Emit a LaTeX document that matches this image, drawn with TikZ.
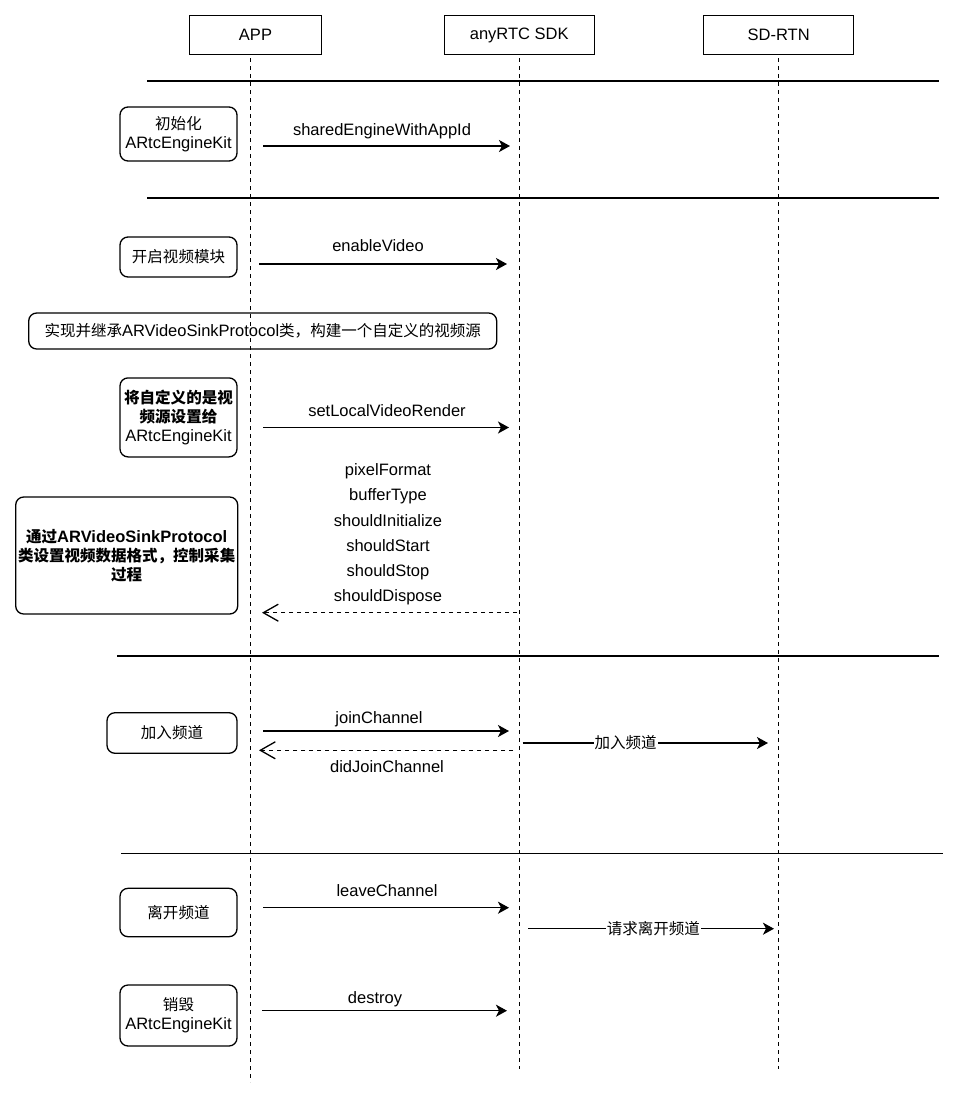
\documentclass[tikz,border=0pt]{standalone}
\usepackage{fontspec}
\setmainfont{Liberation Sans}
\newfontfamily\cjk{Noto Sans CJK SC}[Scale=0.94]
\newcommand{\zh}[1]{{\cjk #1}}
\usetikzlibrary{arrows.meta}

\begin{document}
\begin{tikzpicture}[x=1pt, y=-1pt, line width=1.3pt,
	font=\fontsize{16.5}{19}\selectfont,
	actor/.style={draw, minimum height=39pt, inner sep=0pt},
	note/.style={draw, rounded corners=8pt, align=center, inner sep=0pt},
	life/.style={line width=1pt, dash pattern=on 4pt off 4pt},
	sep/.style={line width=1.2pt},
	call/.style={-{Stealth[length=11pt,width=12pt,inset=3pt]}},
	reply/.style={dash pattern=on 4pt off 4pt, -{Straight Barb[length=15pt,width=17pt]}}]
	\useasboundingbox (0,0) rectangle (957,1096);
	% participants
	\node (APP) at (255.5, 35.3)	[actor, minimum width=132pt]	{APP};
	\node (SDK) at (519.2, 35.3)	[actor, minimum width=150pt]	{anyRTC SDK};
	\node (RTN) at (778.7, 35.3)	[actor, minimum width=150pt]	{SD-RTN};
	\coordinate (APPt) at (250, 58);	\coordinate (APPb) at (250, 1082);
	\coordinate (SDKt) at (519, 58);	\coordinate (SDKb) at (519, 1069);
	\coordinate (RTNt) at (778, 58);	\coordinate (RTNb) at (778, 1069);
	\draw[life] (APPt) -- (APPb);
	\draw[life] (SDKt) -- (SDKb);
	\draw[life] (RTNt) -- (RTNb);
	% separators
	\draw[sep] (147, 81) -- (939, 81);
	\draw[sep] (147, 198) -- (939, 198);
	\draw[sep] (117, 656) -- (939, 656);
	\draw[sep] (121, 853.5) -- (943, 853.5);
	% notes
	\node (N1) at (178.5, 134)	[note, minimum width=117pt, minimum height=54pt]	{\zh{初始化}\\ARtcEngineKit};
	\node (N2) at (178.5, 257)	[note, minimum width=117pt, minimum height=40pt]	{\zh{开启视频模块}};
	\node (N3) at (262.7, 331)	[note, minimum width=468pt, minimum height=36pt]	{\zh{实现并继承}ARVideoSinkProtocol\zh{类，构建一个自定义的视频源}};
	\node (N4) at (178.5, 417.4)	[note, minimum width=117pt, minimum height=79pt]	{{\bfseries\zh{将自定义的是视}}\\{\bfseries\zh{频源设置给}}\\ARtcEngineKit};
	\node (N5) at (126.7, 555.5)	[note, minimum width=222pt, minimum height=117pt, font=\fontsize{16.5}{19}\selectfont\bfseries]	{\zh{通过}ARVideoSinkProtocol\\\zh{类设置视频数据格式，控制采集}\\\zh{过程}};
	\node (N6) at (172, 733)	[note, minimum width=130pt, minimum height=40.6pt]	{\zh{加入频道}};
	\node (N7) at (178.5, 912.5)	[note, minimum width=117pt, minimum height=48.4pt]	{\zh{离开频道}};
	\node (N8) at (178.5, 1015.5)	[note, minimum width=117pt, minimum height=61pt]	{\zh{销毁}\\ARtcEngineKit};
	% message ends
	\coordinate (m1a) at (263, 146);	\coordinate (m1b) at (510, 146);
	\coordinate (m2a) at (259, 264);	\coordinate (m2b) at (507, 264);
	\coordinate (m3a) at (263, 427.5);	\coordinate (m3b) at (509, 427.5);
	\coordinate (r1a) at (517, 612.7);	\coordinate (r1b) at (262, 612.7);
	\coordinate (m4a) at (263, 731);	\coordinate (m4b) at (509, 731);
	\coordinate (r2a) at (513, 750.3);	\coordinate (r2b) at (259, 750.3);
	\coordinate (m5a) at (522.5, 743);	\coordinate (m5b) at (768, 743);
	\coordinate (m6a) at (263, 907.7);	\coordinate (m6b) at (509, 907.7);
	\coordinate (m7a) at (528, 928.7);	\coordinate (m7b) at (774, 928.7);
	\coordinate (m8a) at (262, 1010.7);	\coordinate (m8b) at (507, 1010.7);
	% messages
	\draw[call] (m1a) -- (m1b);
	\draw[call] (m2a) -- (m2b);
	\draw[call] (m3a) -- (m3b);
	\draw[reply] (r1a) -- (r1b);
	\draw[call] (m4a) -- (m4b);
	\draw[reply] (r2a) -- (r2b);
	\draw[call] (m5a) -- node (L5) [pos=0.42, fill=white, inner sep=1pt] {\zh{加入频道}} (m5b);
	\draw[call] (m6a) -- (m6b);
	\draw[call] (m7a) -- node (L7) [pos=0.51, fill=white, inner sep=1pt] {\zh{请求离开频道}} (m7b);
	\draw[call] (m8a) -- (m8b);
	% labels
	\node (L1) at (382, 131)	{sharedEngineWithAppId};
	\node (L2) at (378, 246)	{enableVideo};
	\node (L3) at (387, 410.5)	{setLocalVideoRender};
	\node (CB) at (388, 534.3)	[align=center, font=\fontsize{16.5}{25.1}\selectfont]	{pixelFormat\\bufferType\\shouldInitialize\\shouldStart\\shouldStop\\shouldDispose};
	\node (L4) at (379, 719)	{joinChannel};
	\node (R2) at (387, 767)	{didJoinChannel};
	\node (L6) at (387, 890.5)	{leaveChannel};
	\node (L8) at (375, 999)	{destroy};
\end{tikzpicture}
\end{document}
